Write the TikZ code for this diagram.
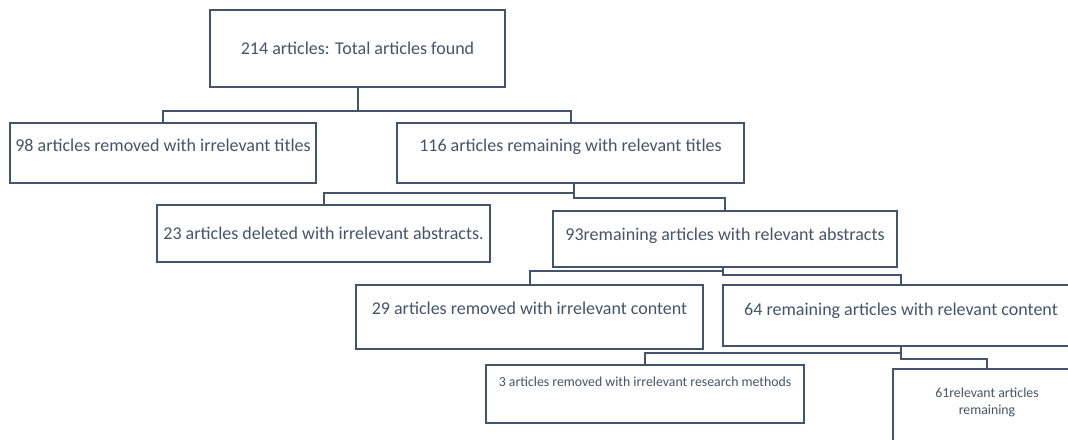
\documentclass[tikz,border=0pt]{standalone}
\usepackage{fontspec}
\setmainfont{Carlito}
\usetikzlibrary{positioning}
\definecolor{slate}{HTML}{44546A}
\begin{document}
\begin{tikzpicture}
    \tikzstyle{box} = [rectangle, draw=slate, line width=2pt, text=slate, inner sep=4pt, font=\fontsize{18pt}{21pt}\selectfont]
    \tikzstyle{smallbox} = [box, font=\fontsize{13.8pt}{17pt}\selectfont]
    \tikzstyle{conn} = [draw=slate, line width=2pt]
    \useasboundingbox (0,0) rectangle (1068pt,-439pt);
    \clip (0,0) rectangle (1068pt,-439pt);
        \node[box,minimum width=295pt,minimum height=77pt] (root) at (357.5pt,-48.5pt) {214 articles: Total articles found};
        % level 1
        \node[box,minimum width=306pt,minimum height=60pt,text depth=15pt,below=34pt,xshift=-194.5pt] (b98) at (root.south) {98 articles removed\ with irrelevant titles};
        \node[box,minimum width=347pt,minimum height=60pt,text depth=15pt,below=34pt,xshift=213pt] (b116) at (root.south) {116 articles remaining with relevant titles};
        \draw[conn] (root.south) -- ++(0,-23pt) -| (b98.north);
        \draw[conn] (root.south) -- ++(0,-23pt) -| (b116.north);
        % level 2
        \node[box,minimum width=333pt,minimum height=57pt,below=20pt,xshift=-247pt] (b23) at (b116.south) {23 articles deleted with irrelevant abstracts.};
        \node[box,minimum width=344pt,minimum height=56pt,text depth=10pt,below=26pt,xshift=154.5pt] (b93) at (b116.south) {93remaining articles with relevant abstracts};
        \draw[conn] ([xshift=3.5pt]b116.south) -- ++(0,-9pt) -| (b23.north);
        \draw[conn] ([xshift=3.5pt]b116.south) -- ++(0,-14pt) -| (b93.north);
        % level 3
        \node[box,minimum width=347pt,minimum height=64pt,text depth=17pt,below=16pt,xshift=-195.5pt] (b29) at (b93.south) {29 articles removed\ with irrelevant content};
        \node[box,minimum width=356pt,minimum height=61pt,text depth=12pt,below=16pt,xshift=176pt] (b64) at (b93.south) {64 remaining articles with relevant content};
        \draw[conn] ([xshift=-2pt]b93.south) -- ++(0,-3pt) -| (b29.north);
        \draw[conn] ([xshift=-2pt]b93.south) -- ++(0,-7pt) -| (b64.north);
        % level 4
        \node[smallbox,minimum width=318pt,minimum height=58pt,text depth=24pt,below=17pt,xshift=-256pt] (b3) at (b64.south) {3 articles removed with irrelevant research methods};
        \node[smallbox,minimum width=188pt,minimum height=85pt,text depth=20pt,align=center,below=21pt,xshift=86pt] (b61) at (b64.south) {61relevant articles\\remaining};
        \draw[conn] (b64.south) -- ++(0,-6pt) -| (b3.north);
        \draw[conn] (b64.south) -- ++(0,-12pt) -| (b61.north);
    \end{tikzpicture}
\end{document}
